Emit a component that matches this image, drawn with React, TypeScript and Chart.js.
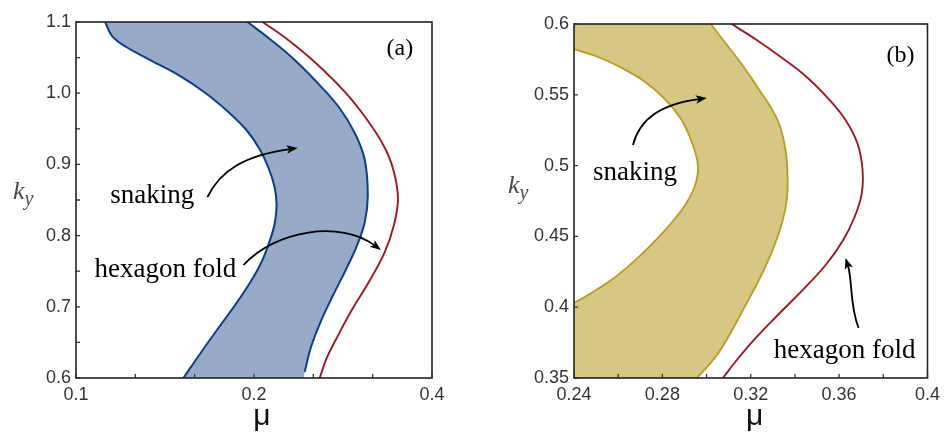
import React, { useEffect, useRef } from "react";
import { Chart, registerables } from "chart.js";

Chart.register(...registerables);

// ---------------- Panel (a) data ----------------
const xTicksA = [0.1, 0.12599, 0.15874, 0.2, 0.25198, 0.31748, 0.4];
const xTickLabelsA = ["0.1", "", "", "0.2", "", "", "0.4"];
const yTicksA = [0.6, 0.65, 0.7, 0.75, 0.8, 0.85, 0.9, 0.95, 1.0, 1.05, 1.1];
const yTickLabelsA = ["0.6", "", "0.7", "", "0.8", "", "0.9", "", "1.0", "", "1.1"];

const snakeLeftMuA = [0.112, 0.1151, 0.1216, 0.1335, 0.1489, 0.1655, 0.181, 0.1942, 0.2044, 0.2117, 0.2167, 0.2184, 0.2167, 0.2117, 0.2052, 0.1958, 0.1853, 0.1741, 0.1629, 0.1519];
const snakeLeftKyA = [1.1, 1.0803, 1.0649, 1.0466, 1.0256, 1.0003, 0.9736, 0.9483, 0.9216, 0.8949, 0.8683, 0.843, 0.8163, 0.7882, 0.7601, 0.7306, 0.7011, 0.6702, 0.6365, 0.6];
const snakeRightMuA = [0.195, 0.2117, 0.2324, 0.2553, 0.2782, 0.2961, 0.3079, 0.3115, 0.3079, 0.2985, 0.2848, 0.2707, 0.2583, 0.2494, 0.2436];
const snakeRightKyA = [1.1, 1.0775, 1.0494, 1.0157, 0.9806, 0.9441, 0.9062, 0.8556, 0.8191, 0.7854, 0.7489, 0.7124, 0.6758, 0.6421, 0.6084];
const foldMuA = [0.2068, 0.2262, 0.2533, 0.2859, 0.3152, 0.3355, 0.3462, 0.3503, 0.3449, 0.3329, 0.3128, 0.2927, 0.276, 0.2655, 0.2583];
const foldKyA = [1.1, 1.0775, 1.0438, 1.0003, 0.9553, 0.9174, 0.8837, 0.85, 0.8149, 0.777, 0.7348, 0.6955, 0.6562, 0.6281, 0.6];
const bandCornerMuA = [0.2428];
const bandCornerKyA = [0.6];

const labelTextsA = ["snaking", "hexagon fold", "(a)"];
const labelMuA = [0.1346, 0.1416, 0.353];
const labelKyA = [0.8458, 0.7419, 1.0537];

const arrowSnakeMuA = [0.1668, 0.1755, 0.1935, 0.237];
const arrowSnakeKyA = [0.854, 0.892, 0.913, 0.923];
const arrowFoldMuA = [0.192, 0.2175, 0.2804, 0.3278];
const arrowFoldKyA = [0.7587, 0.8079, 0.8219, 0.7798];

// ---------------- Panel (b) data ----------------
const xTicksB = [0.24, 0.26, 0.28, 0.3, 0.32, 0.34, 0.36, 0.38, 0.4];
const xTickLabelsB = ["0.24", "", "0.28", "", "0.32", "", "0.36", "", "0.4"];
const yTicksB = [0.35, 0.4, 0.45, 0.5, 0.55, 0.6];
const yTickLabelsB = ["0.35", "0.4", "0.45", "0.5", "0.55", "0.6"];

const snakeLeftMuB = [0.24, 0.2509, 0.2617, 0.2716, 0.2807, 0.2884, 0.2933, 0.2961, 0.2947, 0.2906, 0.2852, 0.2784, 0.2698, 0.2581, 0.2463, 0.24];
const snakeLeftKyB = [0.5823, 0.5767, 0.5689, 0.5598, 0.5477, 0.5329, 0.5167, 0.4997, 0.4856, 0.4729, 0.4616, 0.4496, 0.4362, 0.4206, 0.4086, 0.403];
const snakeRightMuB = [0.3019, 0.3064, 0.311, 0.3155, 0.32, 0.3245, 0.329, 0.3327, 0.3349, 0.3363, 0.3367, 0.3363, 0.3345, 0.3313, 0.3268, 0.3214, 0.3155, 0.3096, 0.3037, 0.2956];
const snakeRightKyB = [0.6, 0.5908, 0.5816, 0.5725, 0.5626, 0.552, 0.5414, 0.5301, 0.5181, 0.504, 0.4898, 0.4757, 0.4616, 0.4461, 0.4291, 0.4122, 0.3952, 0.3783, 0.3641, 0.35];
const foldMuB = [0.3114, 0.3227, 0.3336, 0.3453, 0.3553, 0.3629, 0.3684, 0.3706, 0.3702, 0.367, 0.3616, 0.3539, 0.344, 0.3336, 0.3227, 0.3137, 0.3074];
const foldKyB = [0.6, 0.5887, 0.5767, 0.5626, 0.547, 0.5322, 0.5153, 0.4969, 0.4799, 0.4637, 0.4468, 0.4298, 0.4129, 0.3966, 0.379, 0.3627, 0.35];
const bandCornerMuB = [0.24, 0.24];
const bandCornerKyB = [0.6, 0.35];

const labelTextsB = ["snaking", "hexagon fold", "(b)"];
const labelMuB = [0.2676, 0.3625, 0.3878];
const labelKyB = [0.4898, 0.3641, 0.5732];

const arrowSnakeMuB = [0.2667, 0.2698, 0.2798, 0.3001];
const arrowSnakeKyB = [0.5145, 0.5336, 0.5435, 0.5477];
const arrowFoldMuB = [0.3688, 0.3647, 0.3661, 0.3629];
const arrowFoldKyB = [0.3853, 0.4016, 0.4192, 0.4347];

// ---------------- styling ----------------
const BLUE_LINE = "#0c3f88";
const BLUE_FILL = "#97abc8";
const GOLD_LINE = "#b99b22";
const GOLD_FILL = "#d6c884";
const RED_LINE = "#9c1a1f";
const TICK_COLOR = "#333333";
const FRAME_COLOR = "#222222";

type Curve = { mu: number[]; ky: number[]; color: string; width: number };
type FillStep = { curve: number; reverse?: boolean } | { mu: number; ky: number };
type PanelCfg = {
  xType: "linear" | "logarithmic";
  xMin: number;
  xMax: number;
  yMin: number;
  yMax: number;
  xTicks: number[];
  xTickLabels: string[];
  yTicks: number[];
  yTickLabels: string[];
  curves: Curve[];
  fillSteps: FillStep[];
  fillColor: string;
  texts: string[];
  textMu: number[];
  textKy: number[];
  textFonts: string[];
  arrows: { mu: number[]; ky: number[] }[];
  padding: { left: number; right: number; top: number; bottom: number };
  yAxisWidth: number;
  xAxisHeight: number;
  kyPos: { dx: number; dy: number };
  muPos: { dx: number; dy: number };
};

const panelA: PanelCfg = {
  xType: "logarithmic",
  xMin: 0.1,
  xMax: 0.4,
  yMin: 0.6,
  yMax: 1.1,
  xTicks: xTicksA,
  xTickLabels: xTickLabelsA,
  yTicks: yTicksA,
  yTickLabels: yTickLabelsA,
  curves: [
    { mu: snakeLeftMuA, ky: snakeLeftKyA, color: BLUE_LINE, width: 2 },
    { mu: snakeRightMuA, ky: snakeRightKyA, color: BLUE_LINE, width: 2 },
    { mu: foldMuA, ky: foldKyA, color: RED_LINE, width: 1.9 },
  ],
  fillSteps: [
    { curve: 0 },
    { mu: bandCornerMuA[0], ky: bandCornerKyA[0] },
    { curve: 1, reverse: true },
  ],
  fillColor: BLUE_FILL,
  texts: labelTextsA,
  textMu: labelMuA,
  textKy: labelKyA,
  textFonts: ['27px "Liberation Serif"', '27px "Liberation Serif"', '24px "Liberation Serif"'],
  arrows: [
    { mu: arrowSnakeMuA, ky: arrowSnakeKyA },
    { mu: arrowFoldMuA, ky: arrowFoldKyA },
  ],
  padding: { left: 0, right: 41, top: 22, bottom: 0 },
  yAxisWidth: 76,
  xAxisHeight: 58,
  kyPos: { dx: -63, dy: 177 },
  muPos: { dx: 8, dy: 47 },
};

const panelB: PanelCfg = {
  xType: "linear",
  xMin: 0.24,
  xMax: 0.4,
  yMin: 0.35,
  yMax: 0.6,
  xTicks: xTicksB,
  xTickLabels: xTickLabelsB,
  yTicks: yTicksB,
  yTickLabels: yTickLabelsB,
  curves: [
    { mu: snakeLeftMuB, ky: snakeLeftKyB, color: GOLD_LINE, width: 1.8 },
    { mu: snakeRightMuB, ky: snakeRightKyB, color: GOLD_LINE, width: 1.8 },
    { mu: foldMuB, ky: foldKyB, color: RED_LINE, width: 1.9 },
  ],
  fillSteps: [
    { mu: bandCornerMuB[0], ky: bandCornerKyB[0] },
    { curve: 1 },
    { mu: bandCornerMuB[1], ky: bandCornerKyB[1] },
    { curve: 0, reverse: true },
  ],
  fillColor: GOLD_FILL,
  texts: labelTextsB,
  textMu: labelMuB,
  textKy: labelKyB,
  textFonts: ['27px "Liberation Serif"', '27px "Liberation Serif"', '24px "Liberation Serif"'],
  arrows: [
    { mu: arrowSnakeMuB, ky: arrowSnakeKyB },
    { mu: arrowFoldMuB, ky: arrowFoldKyB },
  ],
  padding: { left: 0, right: 18, top: 24, bottom: 0 },
  yAxisWidth: 101,
  xAxisHeight: 58,
  kyPos: { dx: -66, dy: 169 },
  muPos: { dx: 4, dy: 47 },
};

function drawArrow(ctx: CanvasRenderingContext2D, p: { x: number; y: number }[]) {
  const [p0, c1, c2, p3] = p;
  const ang = Math.atan2(p3.y - c2.y, p3.x - c2.x);
  const L = 11;
  const W = 4.3;
  const cs = Math.cos(ang);
  const sn = Math.sin(ang);
  const bx = p3.x - L * 0.7 * cs;
  const by = p3.y - L * 0.7 * sn;
  ctx.beginPath();
  ctx.moveTo(p0.x, p0.y);
  ctx.bezierCurveTo(c1.x, c1.y, c2.x, c2.y, bx, by);
  ctx.stroke();
  ctx.beginPath();
  ctx.moveTo(p3.x, p3.y);
  ctx.lineTo(p3.x - L * cs + W * sn, p3.y - L * sn - W * cs);
  ctx.lineTo(p3.x - L * 0.75 * cs, p3.y - L * 0.75 * sn);
  ctx.lineTo(p3.x - L * cs - W * sn, p3.y - L * sn + W * cs);
  ctx.closePath();
  ctx.fill();
}

function makePlugin(p: PanelCfg) {
  return {
    id: "panelDeco",
    beforeDatasetsDraw(chart: any) {
      const ctx: CanvasRenderingContext2D = chart.ctx;
      const xs = chart.scales.x;
      const ys = chart.scales.y;
      const area = chart.chartArea;
      ctx.save();
      ctx.beginPath();
      ctx.rect(area.left, area.top, area.right - area.left, area.bottom - area.top);
      ctx.clip();
      ctx.beginPath();
      let started = false;
      const go = (x: number, y: number) => {
        if (!started) {
          ctx.moveTo(x, y);
          started = true;
        } else ctx.lineTo(x, y);
      };
      for (const step of p.fillSteps) {
        if ("curve" in step) {
          const meta = chart.getDatasetMeta(step.curve);
          if (meta.dataset && meta.dataset.updateControlPoints) {
            meta.dataset.updateControlPoints(area, meta.iScale ? meta.iScale.axis : "x");
          }
          const pts: any[] = step.reverse ? [...meta.data].reverse() : [...meta.data];
          go(pts[0].x, pts[0].y);
          for (let i = 1; i < pts.length; i++) {
            const a = pts[i - 1];
            const b = pts[i];
            const ax = step.reverse ? a.cp1x : a.cp2x;
            const ay = step.reverse ? a.cp1y : a.cp2y;
            const bxx = step.reverse ? b.cp2x : b.cp1x;
            const byy = step.reverse ? b.cp2y : b.cp1y;
            if ([ax, ay, bxx, byy].every((v) => typeof v === "number" && isFinite(v))) {
              ctx.bezierCurveTo(ax, ay, bxx, byy, b.x, b.y);
            } else ctx.lineTo(b.x, b.y);
          }
        } else {
          go(xs.getPixelForValue(step.mu), ys.getPixelForValue(step.ky));
        }
      }
      ctx.closePath();
      ctx.fillStyle = p.fillColor;
      ctx.fill();
      ctx.restore();
    },
    afterDatasetsDraw(chart: any) {
      const ctx: CanvasRenderingContext2D = chart.ctx;
      const xs = chart.scales.x;
      const ys = chart.scales.y;
      const area = chart.chartArea;
      ctx.save();
      // frame
      ctx.strokeStyle = FRAME_COLOR;
      ctx.lineWidth = 1.6;
      ctx.strokeRect(area.left, area.top, area.right - area.left, area.bottom - area.top);
      // inward ticks
      ctx.lineWidth = 1.3;
      ctx.strokeStyle = "#333";
      ctx.beginPath();
      for (const v of p.xTicks) {
        const px = xs.getPixelForValue(v);
        ctx.moveTo(px, area.bottom);
        ctx.lineTo(px, area.bottom - 4);
      }
      for (const v of p.yTicks) {
        const py = ys.getPixelForValue(v);
        ctx.moveTo(area.left, py);
        ctx.lineTo(area.left + 4, py);
      }
      ctx.stroke();
      // texts
      ctx.fillStyle = "#000";
      ctx.textAlign = "center";
      ctx.textBaseline = "alphabetic";
      p.texts.forEach((t, i) => {
        ctx.font = p.textFonts[i];
        ctx.fillText(t, xs.getPixelForValue(p.textMu[i]), ys.getPixelForValue(p.textKy[i]));
      });
      // arrows
      ctx.strokeStyle = "#000";
      ctx.fillStyle = "#000";
      ctx.lineWidth = 1.8;
      for (const a of p.arrows) {
        const pts = a.mu.map((m, i) => ({ x: xs.getPixelForValue(m), y: ys.getPixelForValue(a.ky[i]) }));
        drawArrow(ctx, pts);
      }
      // axis titles
      ctx.fillStyle = "#111";
      ctx.font = '30px "Liberation Sans"';
      ctx.textAlign = "center";
      ctx.fillText("\u03bc", (area.left + area.right) / 2 + p.muPos.dx, area.bottom + p.muPos.dy);
      ctx.fillStyle = "#4a4a4a";
      ctx.textAlign = "left";
      ctx.font = 'italic 26px "Liberation Serif"';
      const kx = area.left + p.kyPos.dx;
      const ky = area.top + p.kyPos.dy;
      ctx.fillText("k", kx, ky);
      const kw = ctx.measureText("k").width;
      ctx.font = 'italic 20px "Liberation Serif"';
      ctx.fillText("y", kx + kw, ky + 6);
      ctx.restore();
    },
  };
}

function buildConfig(p: PanelCfg): any {
  return {
    type: "line",
    data: {
      datasets: p.curves.map((c) => ({
        data: c.mu.map((m, i) => ({ x: m, y: c.ky[i] })),
        borderColor: c.color,
        borderWidth: c.width,
        pointRadius: 0,
        tension: 0.4,
        fill: false,
      })),
    },
    options: {
      responsive: false,
      animation: false,
      events: [],
      layout: { padding: p.padding },
      plugins: { legend: { display: false }, tooltip: { enabled: false } },
      scales: {
        x: {
          type: p.xType,
          min: p.xMin,
          max: p.xMax,
          afterBuildTicks: (s: any) => {
            s.ticks = p.xTicks.map((v) => ({ value: v }));
          },
          afterFit: (s: any) => {
            s.height = p.xAxisHeight;
          },
          grid: { display: false, drawTicks: false },
          border: { display: false },
          ticks: {
            autoSkip: false,
            maxRotation: 0,
            padding: 6,
            color: TICK_COLOR,
            font: { family: "Liberation Sans", size: 18 },
            callback: (_v: any, i: number) => p.xTickLabels[i],
          },
        },
        y: {
          type: "linear",
          min: p.yMin,
          max: p.yMax,
          afterBuildTicks: (s: any) => {
            s.ticks = p.yTicks.map((v) => ({ value: v }));
          },
          afterFit: (s: any) => {
            s.width = p.yAxisWidth;
          },
          grid: { display: false, drawTicks: false },
          border: { display: false },
          ticks: {
            autoSkip: false,
            padding: 5,
            color: TICK_COLOR,
            font: { family: "Liberation Sans", size: 18 },
            callback: (_v: any, i: number) => p.yTickLabels[i],
          },
        },
      },
    },
    plugins: [makePlugin(p)],
  };
}

function Panel({ cfg, left }: { cfg: PanelCfg; left: number }) {
  const ref = useRef<HTMLCanvasElement | null>(null);
  useEffect(() => {
    if (!ref.current) return;
    const chart = new Chart(ref.current, buildConfig(cfg));
    return () => chart.destroy();
  }, [cfg]);
  return (
    <canvas
      ref={ref}
      width={473}
      height={436}
      style={{ position: "absolute", left, top: 0, width: 473, height: 436 }}
    />
  );
}

export default function App() {
  return (
    <div style={{ position: "absolute", left: 0, top: 0, width: 946, height: 436, background: "#fff" }}>
      <Panel cfg={panelA} left={0} />
      <Panel cfg={panelB} left={473} />
    </div>
  );
}
